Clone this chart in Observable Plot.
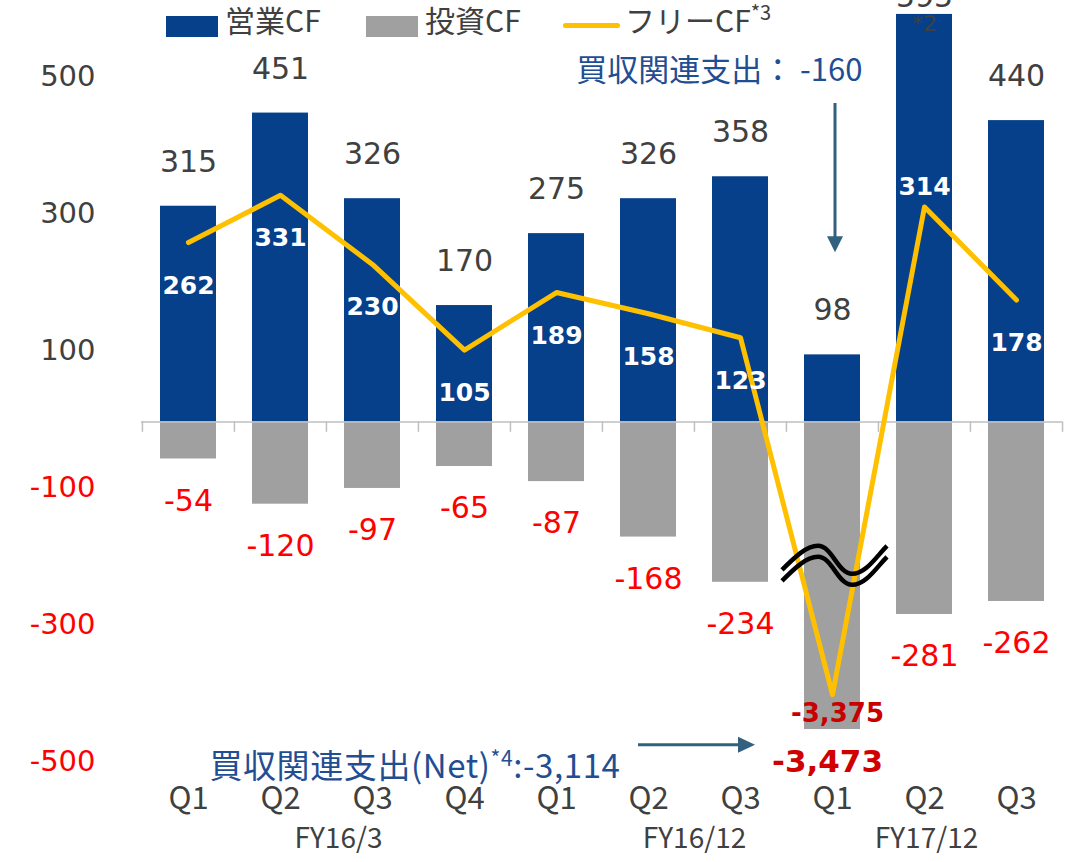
<!DOCTYPE html>
<html>
<head>
<meta charset="utf-8">
<script src="https://cdn.jsdelivr.net/npm/d3@7"></script>
<script src="https://cdn.jsdelivr.net/npm/@observablehq/plot@0.6"></script>
<style>
  html, body { margin: 0; padding: 0; background: #fff; }
  #wrap { position: relative; width: 1076px; height: 862px; overflow: hidden; }
  #legend { position: absolute; left: 0; top: 0; width: 1076px; height: 50px; font-family: 'Noto Sans CJK JP', sans-serif; color: #404040; font-size: 30px; line-height: 1; }
  #legend .sw { position: absolute; }
  #legend .tx { position: absolute; white-space: nowrap; }
  #legend sup { font-size: 20px; vertical-align: 0; position: relative; top: -12px; }
</style>
</head>
<body>
<div id="wrap">
  <div id="chart"></div>
  <div id="legend"></div>
</div>
<script>
// ---------------- data ----------------
const periods  = ["FY16/3","FY16/3","FY16/3","FY16/3","FY16/12","FY16/12","FY16/12","FY17/12","FY17/12","FY17/12"];
const quarters = ["Q1","Q2","Q3","Q4","Q1","Q2","Q3","Q1","Q2","Q3"];
const operatingCF  = [315, 451, 326, 170, 275, 326, 358, 98, 595, 440];
const investingCF  = [-54, -120, -97, -65, -87, -168, -234, -3473, -281, -262];
const freeCF       = [262, 331, 230, 105, 189, 158, 123, -3375, 314, 178];
const yTicks = [500, 300, 100, -100, -300, -500];
const groupLabels = ["FY16/3", "FY16/12", "FY17/12"];
const seriesNames = ["営業CF", "投資CF", "フリーCF"];
const noteTop = "買収関連支出： -160";
const noteBottomMain = "買収関連支出(Net)";
const noteBottomSup = "*4";
const noteBottomTail = ":-3,114";
const opFootnote = "*2";
const freeFootnote = "*3";

// ---------------- styling ----------------
const BLUE = "#06408a", GRAY = "#a0a0a0", YELLOW = "#ffc000";
const TXT = "#404040", RED = "#ff0000", DARKRED = "#d00000", NOTE = "#1f4e93", ARROW = "#31617f";
const NUM_FONT = "'DejaVu Sans', Verdana, sans-serif";
const JP_FONT = "'Noto Sans CJK JP', sans-serif";

const W = 1076, H = 862;
const mL = 141, mR = 14, mT = 79, mB = 98;

// broken axis: values below the break are compressed into the bottom of the plot
const breakLimit = -500;
const breakRef = -3375, breakRefShown = -398, breakSlope = 0.52;
const shown = v => v >= breakLimit ? v : breakRefShown + (v - breakRef) * breakSlope;

const cats = periods.map((p, i) => `${p} ${quarters[i]}`);
const step = (W - mL - mR) / cats.length;
const fmt = d3.formatLocale({decimal: ".", thousands: ",", grouping: [3], currency: ["", ""], minus: "-"}).format(",");

const rows = cats.map((c, i) => ({
  cat: c, q: quarters[i],
  op: operatingCF[i],
  inv: investingCF[i], invShown: shown(investingCF[i]),
  free: freeCF[i], freeShown: shown(freeCF[i])
}));

const peakCat = "FY17/12 Q2"; // free CF label placed above the line here
const breakCat = "FY17/12 Q1";

const groupAnchors = ["FY16/3 Q2", "FY16/12 Q2", "FY17/12 Q2"];
const groupDx = [58, 46, 2];

const marks = [
  Plot.barY(rows, {x: "cat", y: "op", fill: BLUE}),
  Plot.barY(rows, {x: "cat", y: "invShown", fill: GRAY}),
  Plot.ruleY([0], {stroke: "#bfbfbf", strokeWidth: 1.5}),
  Plot.ruleX(rows, {x: "cat", y1: 0, y2: -15, dx: -step / 2, stroke: "#bfbfbf", strokeWidth: 1.5}),
  Plot.ruleX(rows.slice(-1), {x: "cat", y1: 0, y2: -15, dx: step / 2, stroke: "#bfbfbf", strokeWidth: 1.5}),
  Plot.line(rows, {x: "cat", y: "freeShown", stroke: YELLOW, strokeWidth: 5, strokeLinecap: "round", strokeLinejoin: "round"}),
  // operating CF labels
  Plot.text(rows.filter(r => r.op <= 500), {x: "cat", y: "op", text: r => fmt(r.op), dy: -44, fill: TXT, fontSize: 30, fontFamily: NUM_FONT}),
  Plot.text(rows.filter(r => r.op > 500), {x: "cat", y: "op", text: r => fmt(r.op), dy: -17, fill: TXT, fontSize: 30, fontFamily: NUM_FONT}),
  Plot.text(rows.filter(r => r.op > 500), {x: "cat", y: "op", text: () => opFootnote, dy: 10, fill: TXT, fontSize: 22, fontFamily: NUM_FONT}),
  // free CF labels
  Plot.text(rows.filter(r => r.free >= breakLimit && r.cat !== peakCat), {x: "cat", y: "freeShown", text: r => fmt(r.free), dy: 43, fill: "white", fontWeight: "bold", fontSize: 25, fontFamily: NUM_FONT}),
  Plot.text(rows.filter(r => r.cat === peakCat), {x: "cat", y: "freeShown", text: r => fmt(r.free), dy: -20, fill: "white", fontWeight: "bold", fontSize: 25, fontFamily: NUM_FONT}),
  Plot.text(rows.filter(r => r.free < breakLimit), {x: "cat", y: "freeShown", text: r => fmt(r.free), dy: 19, dx: 5, fill: "#c80000", fontWeight: "bold", fontSize: 26, fontFamily: NUM_FONT}),
  // investing CF labels
  Plot.text(rows.filter(r => r.inv >= breakLimit), {x: "cat", y: "inv", text: r => fmt(r.inv), dy: 42, fill: RED, fontSize: 30, fontFamily: NUM_FONT}),
  Plot.text(rows.filter(r => r.inv < breakLimit), {x: "cat", y: "invShown", text: r => fmt(r.inv), dy: 33, dx: -5, fill: DARKRED, fontWeight: "bold", fontSize: 31, fontFamily: NUM_FONT}),
  // y tick labels
  Plot.text(yTicks.filter(d => d > 0), {y: d => d, text: d => String(d), frameAnchor: "left", textAnchor: "end", dx: -46, dy: -3, fill: TXT, fontSize: 29, fontFamily: NUM_FONT}),
  Plot.text(yTicks.filter(d => d < 0), {y: d => d, text: d => String(d), frameAnchor: "left", textAnchor: "end", dx: -46, dy: -3, fill: RED, fontSize: 29, fontFamily: NUM_FONT}),
  // x tick labels
  Plot.text(rows, {x: "cat", text: "q", frameAnchor: "bottom", dy: 44, fill: TXT, fontSize: 31, fontFamily: JP_FONT}),
  ...groupLabels.map((g, i) => Plot.text([g], {x: () => groupAnchors[i], text: d => d, frameAnchor: "bottom", dy: 83, dx: groupDx[i], fill: TXT, fontSize: 28, fontFamily: JP_FONT})),
  // notes
  Plot.text([noteTop], {x: () => breakCat, y: () => 513, text: d => d, textAnchor: "end", dx: 30, fill: NOTE, fontSize: 31, fontFamily: JP_FONT}),
  Plot.text([noteBottomMain + noteBottomSup + noteBottomTail], {x: () => "FY16/12 Q2", y: () => -505, text: d => d, textAnchor: "end", dx: -28, fill: NOTE, fontSize: 33, fontFamily: JP_FONT})
];

const chart = Plot.plot({
  width: W, height: H,
  marginLeft: mL, marginRight: mR, marginTop: mT, marginBottom: mB,
  x: {type: "band", domain: cats, paddingInner: 0.392, paddingOuter: 0.196, align: 0.5, axis: null},
  y: {domain: [-500, 500], axis: null},
  style: {fontFamily: NUM_FONT, background: "white", overflow: "hidden"},
  marks
});
document.getElementById("chart").append(chart);

// ---------------- post-processing with the plot's own scales ----------------
const svg = d3.select(chart.tagName.toLowerCase() === "svg" ? chart : chart.querySelector("svg"));
const sx = chart.scale("x"), sy = chart.scale("y");
const xc = c => sx.apply(c) + sx.bandwidth / 2;
const yv = v => sy.apply(v);

// superscript in bottom note
svg.selectAll("text").filter(function () { return this.textContent === noteBottomMain + noteBottomSup + noteBottomTail; })
  .each(function () {
    const t = d3.select(this);
    t.text("").style("letter-spacing", "0.6px");
    t.append("tspan").text(noteBottomMain);
    t.append("tspan").attr("font-size", "21").attr("dy", "-12").text(noteBottomSup);
    t.append("tspan").attr("dy", "12").text(noteBottomTail);
  });

const deco = svg.append("g");

// vertical arrow
{
  const x = xc(breakCat) + 3, y0 = yv(465), tip = yv(247);
  deco.append("line").attr("x1", x).attr("x2", x).attr("y1", y0).attr("y2", tip - 12)
    .attr("stroke", ARROW).attr("stroke-width", 3);
  deco.append("path").attr("d", `M${x - 8},${tip - 16}L${x + 8},${tip - 16}L${x},${tip}Z`).attr("fill", ARROW);
}
// horizontal arrow
{
  const y = yv(-472), x0 = xc("FY16/12 Q2") - 10, tip = xc(breakCat) - 77;
  deco.append("line").attr("x1", x0).attr("x2", tip - 12).attr("y1", y).attr("y2", y)
    .attr("stroke", ARROW).attr("stroke-width", 3);
  deco.append("path").attr("d", `M${tip - 17},${y - 8}L${tip - 17},${y + 8}L${tip},${y}Z`).attr("fill", ARROW);
}
// axis-break symbol
{
  const cx = xc(breakCat) + 3, cy = yv(-210);
  const wave = (oy) => `M${cx - 53},${cy + oy + 10}C${cx - 41},${cy + oy - 2} ${cx - 29},${cy + oy - 14} ${cx - 17},${cy + oy - 14}C${cx - 3},${cy + oy - 14} ${cx + 3},${cy + oy + 14} ${cx + 17},${cy + oy + 14}C${cx + 31},${cy + oy + 14} ${cx + 42},${cy + oy - 4} ${cx + 52},${cy + oy - 14}`;
  deco.append("path").attr("d", wave(-5.5)).attr("fill", "none").attr("stroke", "black").attr("stroke-width", 4.5);
  deco.append("path").attr("d", wave(5.5)).attr("fill", "none").attr("stroke", "black").attr("stroke-width", 4.5);
}

// ---------------- legend (HTML, above the chart) ----------------
const legend = document.getElementById("legend");
legend.innerHTML = `
  <div class="sw" style="left:166px;top:16px;width:52px;height:21px;background:${BLUE}"></div>
  <div class="tx" style="left:225px;top:4px">${seriesNames[0]}</div>
  <div class="sw" style="left:366px;top:16px;width:52px;height:21px;background:${GRAY}"></div>
  <div class="tx" style="left:425px;top:4px">${seriesNames[1]}</div>
  <div class="sw" style="left:563px;top:23px;width:57px;height:5px;border-radius:3px;background:${YELLOW}"></div>
  <div class="tx" style="left:625px;top:4px">${seriesNames[2]}<sup>${freeFootnote}</sup></div>
`;
</script>
</body>
</html>
